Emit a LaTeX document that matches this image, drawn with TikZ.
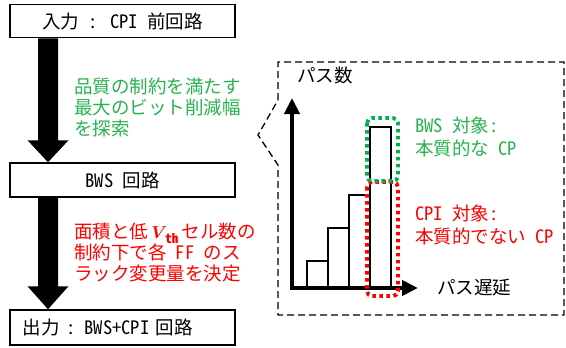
\documentclass[tikz,border=0pt]{standalone}
\usepackage{fontspec}
\setmainfont{Noto Sans CJK JP}[RawFeature=+hwid]
\usepackage{amsmath}
\usetikzlibrary{calc,arrows.meta}
\definecolor{pgreen}{RGB}{0,176,80}
\definecolor{tgreen}{RGB}{40,178,80}
\definecolor{pred}{RGB}{255,0,0}
\newcommand\jpsize{\fontsize{18.5}{21}\selectfont}
\newcommand\jpsizeb{\fontsize{18.5}{23}\selectfont}
\begin{document}
\begin{tikzpicture}[x=1pt,y=-1pt,
  flowbox/.style={draw, line width=1.5pt, minimum width=225pt, inner sep=0pt, font=\jpsize},
  blockarrow/.style={fill=black},
  note/.style={inner sep=0pt, align=left, anchor=west, font=\jpsize},
  noteb/.style={inner sep=0pt, align=left, anchor=west, font=\jpsizeb},
  axisline/.style={line width=4.5pt, -{Triangle[length=16pt,width=15pt]}},
  bar/.style={draw, line width=1.3pt},
  dotbox/.style={line width=3.8pt, dash pattern=on 3.5pt off 3.5pt, rounded corners=5pt},
  callout/.style={line width=1.3pt, dash pattern=on 7pt off 4pt}]
\useasboundingbox (0,0) rectangle (566,348);

% flow boxes
\node[flowbox, minimum height=33pt] (inp) at (122.5,21) {入力 : CPI 前回路};
\node[flowbox, minimum height=34pt] (bws) at (122.5,180) {BWS 回路};
\node[flowbox, minimum height=35pt, text width=199pt, align=left] (outp) at (122.5,327.5) {出力 : BWS+CPI 回路};

% block arrows
\coordinate (ax) at (48,0);
\coordinate (s1) at (inp.south -| ax);
\coordinate (e1) at (bws.north -| ax);
\coordinate (s2) at (bws.south -| ax);
\coordinate (e2) at (outp.north -| ax);
\fill[blockarrow] ($(s1)+(-10,0)$) -- ($(e1)+(-10,-22)$) -- ($(e1)+(-20.5,-22)$) -- (e1)
  -- ($(e1)+(20.5,-22)$) -- ($(e1)+(10,-22)$) -- ($(s1)+(10,0)$) -- cycle;
\fill[blockarrow] ($(s2)+(-10,0)$) -- ($(e2)+(-10,-23)$) -- ($(e2)+(-20.5,-23)$) -- (e2)
  -- ($(e2)+(20.5,-23)$) -- ($(e2)+(10,-23)$) -- ($(s2)+(10,0)$) -- cycle;

% side notes
\node[note, text=tgreen] (gnote) at (74,107) {品質の制約を満たす\\最大のビット削減幅\\を探索};
\node[note, text=pred] (rnote) at (74,253) {面積と低\,$\boldsymbol{V}_{\!\mathbf{th}}$\,セル数の\\制約下で各 FF のス\\ラック変更量を決定};

% callout frame
\draw[callout] (278,100) -- (278,62) -- (564,62) -- (564,315) -- (278,315) -- (278,165) -- (258,135) -- cycle;

% histogram
\coordinate (o) at (292,288);
\coordinate (ytip) at (292,98);
\coordinate (xtip) at (418,288);
\draw[bar] (307,288) rectangle (328,261);
\draw[bar] (328,288) rectangle (349,228);
\draw[bar] (349,288) rectangle (370,195);
\draw[bar] (370,288) rectangle (391,127);
\draw[axisline] ($(o)+(0,2.25)$) -- (ytip);
\draw[axisline] ($(o)+(-2.25,0)$) -- (xtip);

% dotted selections
\draw[dotbox, pred] (367,182) rectangle (398,296);
\draw[dotbox, pgreen] (367,118) rectangle (398,181);

% labels
\node[note] (ylab) at (297,75) {パス数};
\node[note] (xlab) at (437,288) {パス遅延};
\node[noteb, text=tgreen] (gl) at (415,137) {BWS 対象:\\本質的な CP};
\node[noteb, text=pred] (rl) at (415,225) {CPI 対象:\\本質的でない CP};
\end{tikzpicture}
\end{document}
